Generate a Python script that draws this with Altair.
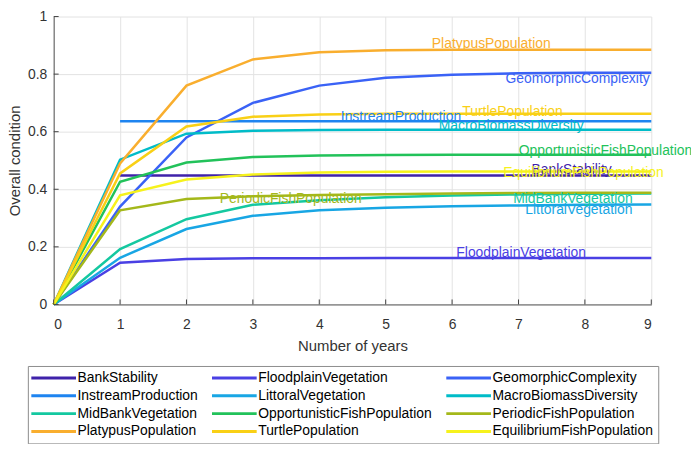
import altair as alt
import pandas as pd

years = [0, 1, 2, 3, 4, 5, 6, 7, 8, 9]

series_names = [
    "BankStability", "FloodplainVegetation", "GeomorphicComplexity",
    "InstreamProduction", "LittoralVegetation", "MacroBiomassDiversity",
    "MidBankVegetation", "OpportunisticFishPopulation", "PeriodicFishPopulation",
    "PlatypusPopulation", "TurtlePopulation", "EquilibriumFishPopulation",
]
series_colors = [
    "#3f22aa", "#4a40e4", "#3a62f6", "#1e84f0", "#18a6e4", "#00bcc8",
    "#14c8a0", "#22c25a", "#a4b81a", "#f9ae2e", "#f9d016", "#f6f21c",
]

bank_stability = [None, 0.448, 0.448, 0.448, 0.448, 0.448, 0.448, 0.448, 0.448, 0.448]
floodplain_veg = [0, 0.145, 0.158, 0.160, 0.160, 0.161, 0.161, 0.161, 0.161, 0.161]
geomorphic = [0, 0.34, 0.58, 0.70, 0.76, 0.787, 0.798, 0.803, 0.805, 0.805]
instream = [None, 0.636, 0.636, 0.636, 0.636, 0.636, 0.636, 0.636, 0.636, 0.636]
littoral = [0, 0.162, 0.262, 0.308, 0.327, 0.336, 0.341, 0.344, 0.346, 0.347]
macro_biomass = [0, 0.503, 0.593, 0.603, 0.606, 0.607, 0.607, 0.607, 0.607, 0.607]
midbank = [0, 0.192, 0.296, 0.346, 0.362, 0.372, 0.378, 0.382, 0.384, 0.385]
opportunistic = [0, 0.426, 0.493, 0.512, 0.517, 0.519, 0.520, 0.520, 0.520, 0.520]
periodic = [0, 0.327, 0.366, 0.376, 0.380, 0.383, 0.385, 0.387, 0.388, 0.388]
platypus = [0, 0.49, 0.76, 0.851, 0.876, 0.883, 0.885, 0.885, 0.885, 0.885]
turtle = [0, 0.455, 0.618, 0.652, 0.660, 0.662, 0.662, 0.662, 0.662, 0.662]
equilibrium = [0, 0.379, 0.434, 0.451, 0.458, 0.461, 0.462, 0.462, 0.462, 0.462]

series_values = [
    bank_stability, floodplain_veg, geomorphic, instream, littoral, macro_biomass,
    midbank, opportunistic, periodic, platypus, turtle, equilibrium,
]

# in-plot labels (data coordinates of label centres)
label_x = [7.80, 7.04, 7.89, 5.23, 7.91, 6.89, 7.82, 8.31, 3.57, 6.59, 6.91, 7.98]
label_y = [0.468, 0.179, 0.784, 0.651, 0.327, 0.618, 0.366, 0.532, 0.366, 0.903, 0.670, 0.457]

x_ticks = [0, 1, 2, 3, 4, 5, 6, 7, 8, 9]
y_ticks = [0, 0.2, 0.4, 0.6, 0.8, 1]

rows = []
for name, vals in zip(series_names, series_values):
    for yr, v in zip(years, vals):
        rows.append({"series": name, "year": yr, "value": v})
df = pd.DataFrame(rows)

labels_df = pd.DataFrame({"series": series_names, "year": label_x, "value": label_y})

FONT = "Liberation Sans"
W, H = 602, 290

color_scale = alt.Scale(domain=series_names, range=series_colors)
x_scale = alt.Scale(domain=[0, 9], nice=False)
y_scale = alt.Scale(domain=[0, 1], nice=False)

x_axis = alt.Axis(values=x_ticks, format="d", title="Number of years", grid=True,
                  ticks=False, labelPadding=13, titlePadding=7)
y_axis = alt.Axis(values=y_ticks, format="~g", title="Overall condition", grid=True,
                  ticks=False, labelPadding=7, titlePadding=5)

lines = alt.Chart(df).mark_line(strokeWidth=2.5).encode(
    x=alt.X("year:Q", scale=x_scale, axis=x_axis),
    y=alt.Y("value:Q", scale=y_scale, axis=y_axis),
    color=alt.Color(
        "series:N", scale=color_scale,
        legend=alt.Legend(
            title=None, orient="none", legendX=-26, legendY=352, columns=3,
            direction="horizontal",
            symbolType="M-5,0H5", symbolSize=81, symbolStrokeWidth=3,
            symbolOffset=14, labelOffset=17,
            labelFont=FONT, labelFontSize=14, labelColor="#000000",
            labelLimit=400, strokeColor="#8c8c8c", fillColor="#ffffff",
            padding=5, rowPadding=4, columnPadding=7,
        ),
    ),
)

texts = alt.Chart(labels_df).mark_text(font=FONT, fontSize=14, align="center",
                                       baseline="middle").encode(
    x=alt.X("year:Q", scale=x_scale),
    y=alt.Y("value:Q", scale=y_scale),
    text="series:N",
    color=alt.Color("series:N", scale=color_scale, legend=None),
)

xt = alt.Chart(pd.DataFrame({"year": x_ticks})).mark_rule(color="#444444").encode(
    x=alt.X("year:Q", scale=x_scale), y=alt.value(H), y2=alt.value(H - 5)
)
yt = alt.Chart(pd.DataFrame({"value": y_ticks})).mark_rule(color="#444444").encode(
    y=alt.Y("value:Q", scale=y_scale), x=alt.value(0), x2=alt.value(5)
)

chart = alt.layer(lines, xt, yt, texts).properties(
    width=W, height=H,
    autosize=alt.AutoSizeParams(type="none"),
    padding={"left": 46, "top": 7, "right": 40, "bottom": 139},
).configure_view(stroke=None).configure_axis(
    labelFont=FONT, titleFont=FONT, labelFontSize=14, titleFontSize=15,
    labelColor="#333333", titleColor="#333333", titleFontWeight="normal",
    domainColor="#555555", gridColor="#e3e3e3",
)

chart.save("out.html", embed_options={"renderer": "svg", "actions": False})
